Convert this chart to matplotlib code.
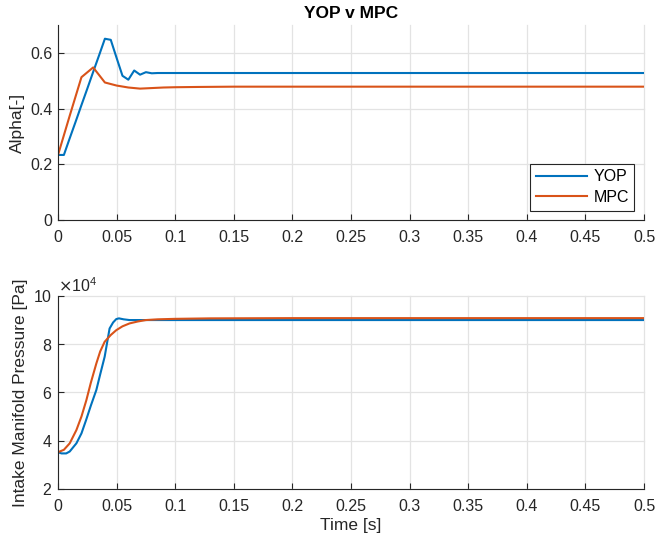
import numpy as np
import matplotlib
matplotlib.use("Agg")
import matplotlib.pyplot as plt
from matplotlib.ticker import ScalarFormatter

# ---- data ----
t_yop_alpha = [0, 0.005, 0.01, 0.015, 0.02, 0.025, 0.03, 0.035, 0.04, 0.045, 0.05,
               0.055, 0.06, 0.065, 0.07, 0.075, 0.08, 0.085, 0.1, 0.2, 0.3, 0.4, 0.5]
alpha_yop = [0.234, 0.234, 0.294, 0.353, 0.413, 0.472, 0.532, 0.591, 0.651, 0.647, 0.582,
             0.518, 0.504, 0.537, 0.522, 0.531, 0.527, 0.528, 0.528, 0.528, 0.528, 0.528, 0.528]

t_mpc_alpha = [0, 0.01, 0.02, 0.03, 0.04, 0.05, 0.06, 0.07, 0.08, 0.09, 0.1, 0.12, 0.15,
               0.2, 0.3, 0.4, 0.5]
alpha_mpc = [0.234, 0.375, 0.513, 0.548, 0.494, 0.483, 0.476, 0.472, 0.474, 0.476, 0.477,
             0.478, 0.479, 0.479, 0.479, 0.479, 0.479]

t_yop_p = [0, 0.003, 0.007, 0.01, 0.0157, 0.02, 0.024, 0.028, 0.0327, 0.036, 0.0398, 0.044,
           0.047, 0.0497, 0.052, 0.056, 0.061, 0.07, 0.1, 0.2, 0.3, 0.4, 0.5]
p_yop = [3.52e4, 3.47e4, 3.47e4, 3.55e4, 3.89e4, 4.3e4, 4.86e4, 5.45e4, 6.10e4, 6.75e4, 7.48e4,
         8.65e4, 8.90e4, 9.04e4, 9.07e4, 9.03e4, 9.00e4, 9.00e4, 9.00e4, 9.00e4, 9.00e4, 9.00e4, 9.00e4]

t_mpc_p = [0, 0.005, 0.01, 0.0157, 0.02, 0.0242, 0.028, 0.0327, 0.036, 0.0398, 0.045, 0.0497,
           0.055, 0.061, 0.068, 0.075, 0.085, 0.1, 0.13, 0.2, 0.3, 0.4, 0.5]
p_mpc = [3.52e4, 3.62e4, 3.89e4, 4.44e4, 5.0e4, 5.68e4, 6.4e4, 7.2e4, 7.7e4, 8.1e4, 8.38e4, 8.58e4,
         8.74e4, 8.86e4, 8.94e4, 9.0e4, 9.03e4, 9.05e4, 9.07e4, 9.08e4, 9.08e4, 9.08e4, 9.08e4]

blue = "#0072BD"
orange = "#D95319"
axc = "#262626"

plt.rcParams['font.family'] = ['Liberation Sans', 'DejaVu Sans']
plt.rcParams['font.size'] = 11.5

fig = plt.figure(figsize=(6.57, 5.45), dpi=100)
ax1 = fig.add_axes([0.0883, 0.596, 0.892, 0.358])
ax2 = fig.add_axes([0.0883, 0.103, 0.892, 0.354])

def style(ax):
    ax.grid(True, color='#e3e3e3', linewidth=0.9)
    ax.set_axisbelow(True)
    ax.spines['top'].set_visible(False)
    ax.spines['right'].set_visible(False)
    for s in ('left', 'bottom'):
        ax.spines[s].set_color(axc)
        ax.spines[s].set_linewidth(0.8)
    ax.tick_params(direction='in', colors=axc, length=4, width=0.8, top=False, right=False,
                   labelsize=11.5)
    ax.tick_params(axis='x', pad=7)
    ax.tick_params(axis='y', pad=4)
    ax.set_xlim(0, 0.5)
    ax.set_xticks(np.arange(0, 0.501, 0.05))
    ax.set_xticklabels(['0', '0.05', '0.1', '0.15', '0.2', '0.25', '0.3', '0.35', '0.4', '0.45', '0.5'])
    for gl in ax.get_xgridlines() + ax.get_ygridlines():
        gl.set_clip_on(False)

ax1.plot(t_yop_alpha, alpha_yop, color=blue, lw=1.5, label='YOP')
ax1.plot(t_mpc_alpha, alpha_mpc, color=orange, lw=1.5, label='MPC')
style(ax1)
ax1.set_ylim(0, 0.7)
ax1.set_yticks([0, 0.2, 0.4, 0.6])
ax1.set_yticklabels(['0', '0.2', '0.4', '0.6'])
ax1.set_ylabel('Alpha[-]', color=axc, fontsize=12.5, labelpad=4)
ax1.set_title('YOP v MPC', fontweight='bold', fontsize=12.5, color='black', pad=5)
leg = ax1.legend(loc='lower right', fancybox=False, edgecolor=axc, framealpha=1,
                 handlelength=3.2, borderaxespad=0.6, fontsize=11.5,
                 borderpad=0.35, labelspacing=0.35, handletextpad=0.4)
leg.get_frame().set_linewidth(0.8)

ax2.plot(t_yop_p, p_yop, color=blue, lw=1.5)
ax2.plot(t_mpc_p, p_mpc, color=orange, lw=1.5)
style(ax2)
ax2.set_ylim(2e4, 10e4)
ax2.set_yticks([2e4, 4e4, 6e4, 8e4, 10e4])
fmt = ScalarFormatter(useMathText=True)
fmt.set_powerlimits((4, 4))
ax2.yaxis.set_major_formatter(fmt)
ax2.yaxis.get_offset_text().set_color(axc)
ax2.yaxis.get_offset_text().set_fontsize(11.5)
ax2.set_ylabel('Intake Manifold Pressure [Pa]', color=axc, fontsize=12.5, labelpad=4)
ax2.set_xlabel('Time [s]', color=axc, fontsize=12.5, labelpad=3)
for gl in ax2.get_xgridlines() + ax2.get_ygridlines():
    gl.set_clip_on(False)

fig.savefig('out.png', dpi=100)
